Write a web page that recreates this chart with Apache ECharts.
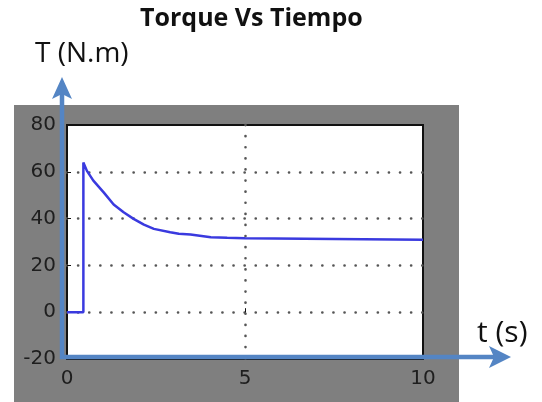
<!DOCTYPE html>
<html>
<head>
<meta charset="utf-8">
<script src="https://cdn.jsdelivr.net/npm/echarts@6/dist/echarts.min.js"></script>
<style>html,body{margin:0;padding:0;background:#fff;}#c{width:542px;height:402px;}</style>
</head>
<body>
<div id="c"></div>
<script>
var time   = [0, 0.46, 0.46, 0.56, 0.74, 1.03, 1.31, 1.59, 1.87, 2.16, 2.44, 2.9, 3.14, 3.47, 4.04, 4.5, 5.0, 5.0, 10];
var torque = [0, 0, 64, 60.4, 56.2, 51.2, 46.0, 42.7, 39.9, 37.4, 35.6, 34.2, 33.5, 33.2, 32.0, 31.8, 31.6, 31.0, 31.0];
var xTicks = [0, 5, 10];
var yTicks = [-20, 0, 20, 40, 60, 80];

var chart = echarts.init(document.getElementById('c'));
var pts = time.map(function (t, i) { return [t, torque[i]]; });
var blue = '#5485c4';

chart.setOption({
  animation: false,
  backgroundColor: '#fff',
  title: {
    text: 'Torque Vs Tiempo', left: 135, top: 1,
    textStyle: { fontFamily: 'Open Sans', fontWeight: 'bold', fontSize: 25, color: '#111' }
  },
  graphic: [
    { type: 'rect', z: -10, shape: { x: 14, y: 105, width: 445, height: 297 }, style: { fill: '#7f7f7f' } },
    { type: 'text', left: 35, top: 40, style: { text: 'T (N.m)', fontFamily: 'Open Sans', fontSize: 28, fill: '#111' } },
    { type: 'text', left: 477, top: 318, style: { text: 't (s)', fontFamily: 'Open Sans', fontSize: 30, fill: '#111' } },
    { type: 'line', z: 100, shape: { x1: 62, y1: 359, x2: 62, y2: 92 }, style: { stroke: blue, lineWidth: 4.5 } },
    { type: 'polygon', z: 100, shape: { points: [[52, 99], [62, 77], [72, 99], [62, 94]] }, style: { fill: blue } },
    { type: 'line', z: 100, shape: { x1: 60, y1: 357, x2: 498, y2: 357 }, style: { stroke: blue, lineWidth: 4.5 } },
    { type: 'polygon', z: 100, shape: { points: [[489, 346], [511, 357], [489, 368], [494, 357]] }, style: { fill: blue } }
  ],
  grid: {
    left: 67, top: 125, right: 119, bottom: 43,
    show: true, backgroundColor: '#fff', borderColor: '#111', borderWidth: 2
  },
  xAxis: {
    type: 'value', min: 0, max: 10, interval: 5,
    axisLine: { show: false },
    axisTick: { show: true, inside: true, length: 4, lineStyle: { color: '#111' } },
    axisLabel: { fontFamily: 'DejaVu Sans', fontSize: 20, color: '#1e1e1e', margin: 10 },
    splitLine: { show: true, showMinLine: false, showMaxLine: false, lineStyle: { color: '#555', width: 2.6, type: [0.1, 11], cap: 'round' } }
  },
  yAxis: {
    type: 'value', min: -20, max: 80, interval: 20,
    axisLine: { show: false },
    axisTick: { show: true, inside: true, length: 4, lineStyle: { color: '#111' } },
    axisLabel: { fontFamily: 'DejaVu Sans', fontSize: 20, color: '#1e1e1e', margin: 11 },
    splitLine: { show: true, showMinLine: false, showMaxLine: false, lineStyle: { color: '#555', width: 2.6, type: [0.1, 11], cap: 'round' } }
  },
  series: [{
    type: 'line', data: pts, showSymbol: false, symbol: 'none',
    lineStyle: { color: '#3a3adf', width: 2.5 }, z: 5
  }]
});
</script>
</body>
</html>
